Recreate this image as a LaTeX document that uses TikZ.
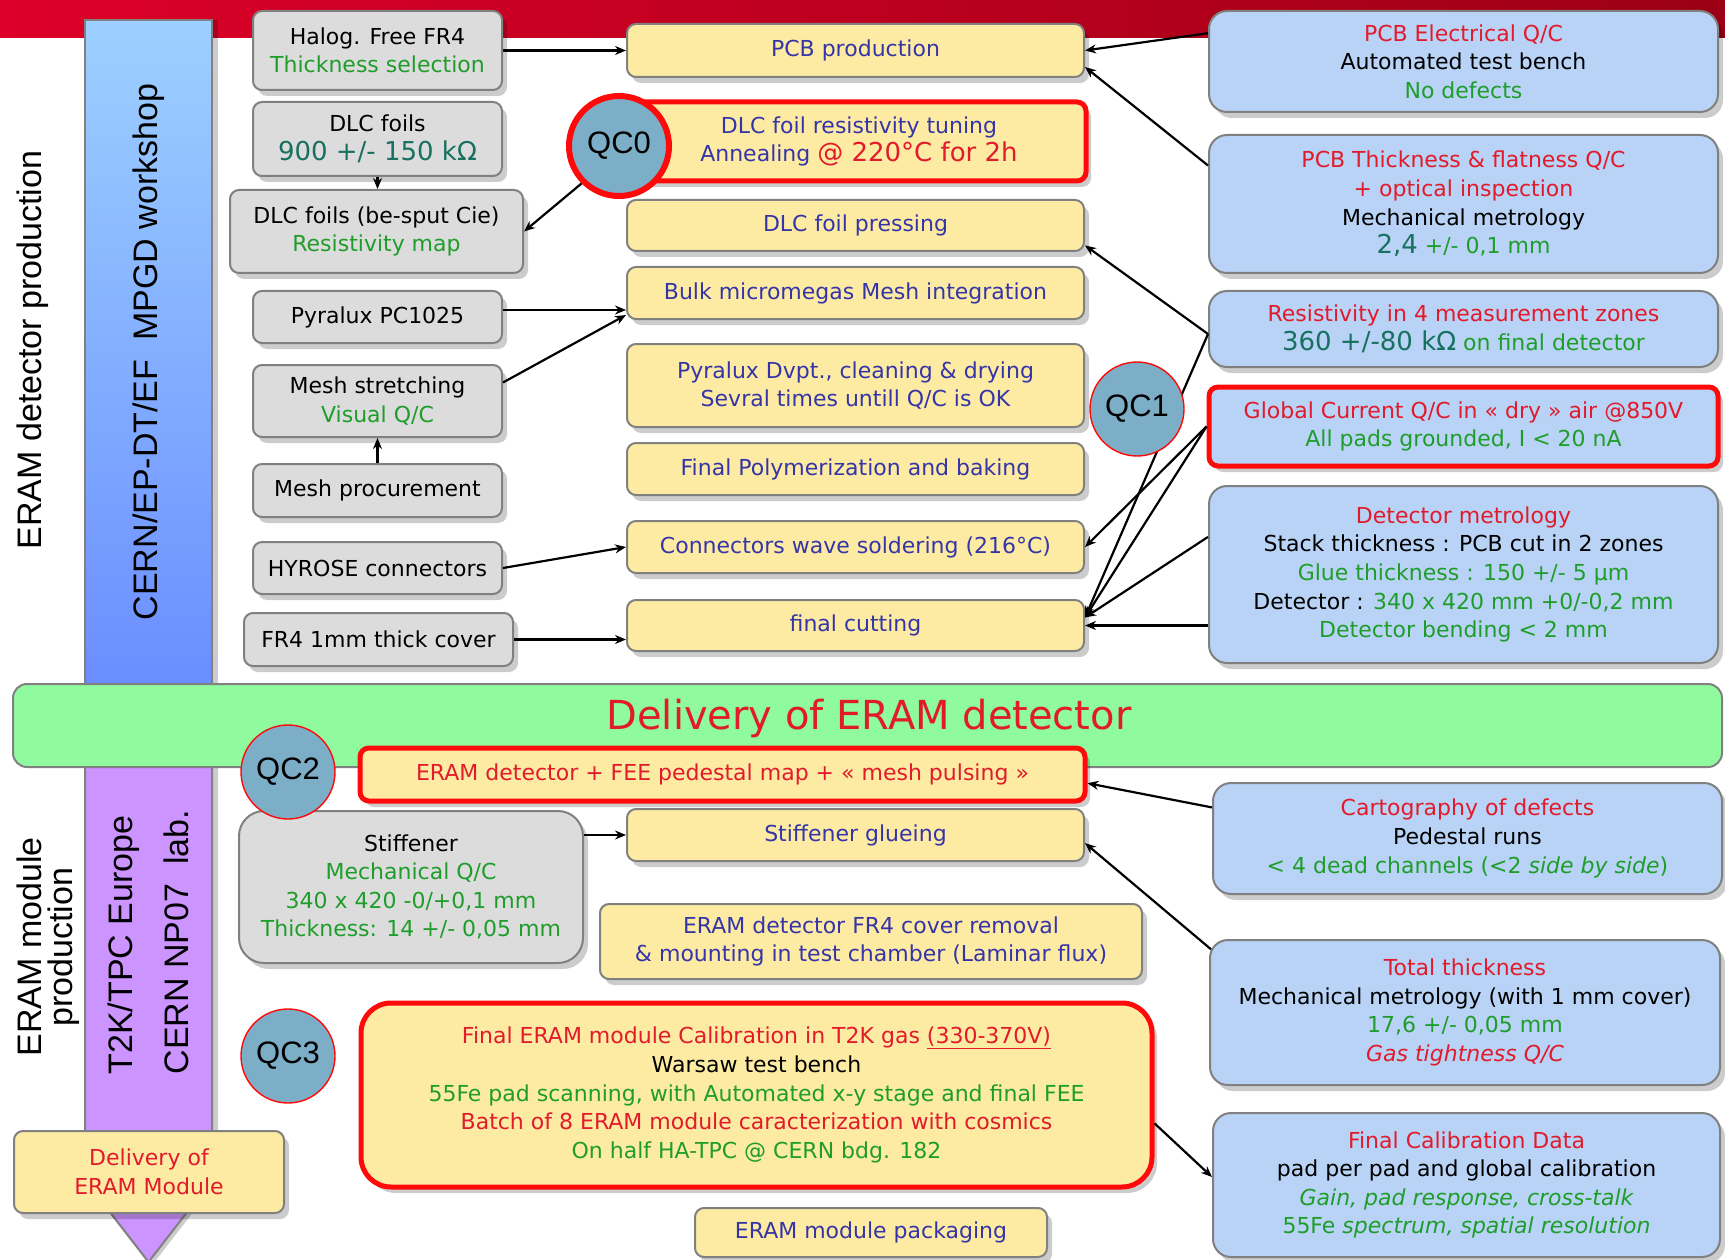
\documentclass[tikz,border=0pt]{standalone}
\usepackage{fontspec}
\setmainfont{DejaVu Sans}
\newfontfamily\arialf{Liberation Sans}
\usetikzlibrary{arrows.meta,shadows,calc}
\definecolor{bordergray}{HTML}{808080}
\definecolor{grayfill}{HTML}{DCDCDC}
\definecolor{yelfill}{HTML}{FDEBA3}
\definecolor{bluefill}{HTML}{B8D3F6}
\definecolor{greenfill}{HTML}{8FFB9E}
\definecolor{qcfill}{HTML}{7DAEC7}
\definecolor{purplefill}{HTML}{CC94FF}
\definecolor{tblue}{HTML}{3535A8}
\definecolor{tgreen}{HTML}{1F9D2B}
\definecolor{tteal}{HTML}{177060}
\definecolor{tred}{HTML}{E11B2B}
\definecolor{redline}{HTML}{FF0A0A}
\definecolor{bannerL}{HTML}{DD0029}
\definecolor{bannerR}{HTML}{9C0014}
\definecolor{barTop}{HTML}{9DD0FF}
\definecolor{barBot}{HTML}{6A8DFF}
\newcommand{\bxfnt}{\fontsize{22}{28.6}\selectfont}
\newcommand{\lgfnt}{\fontsize{26}{28.6}\selectfont}
\newcommand{\sidefnt}{\arialf\fontsize{34}{31}\selectfont}
\tikzset{
  box/.style={draw=bordergray, line width=2, rounded corners=9, align=center, inner sep=0pt,
    font=\bxfnt, text=black,
    drop shadow={shadow xshift=5pt, shadow yshift=-6pt, opacity=0.2, fill=black}},
  gbox/.style={box, fill=grayfill},
  ybox/.style={box, fill=yelfill, text=tblue},
  bbox/.style={box, fill=bluefill, rounded corners=18},
  redbox/.style={draw=redline, line width=5},
  qc/.style={circle, draw=redline, line width=1.4, fill=qcfill, inner sep=0pt, minimum size=94,
    font=\arialf\fontsize{31}{31}\selectfont},
  arr/.style={-{Stealth[length=11pt,width=9pt]}, line width=2.2, black},
  sidelbl/.style={rotate=90, font=\sidefnt, align=center},
}
\begin{document}
\begin{tikzpicture}[x=1pt,y=-1pt]
\useasboundingbox (0,0) rectangle (1725,1260);
% banner
\shade[left color=bannerL, right color=bannerR] (0,0) rectangle (1725,38);
% bars
\draw[draw=bordergray, line width=2, top color=barTop, bottom color=barBot,
  drop shadow={shadow xshift=6pt, shadow yshift=0pt, opacity=0.2, fill=black}] (85,20) rectangle (212,690);
\draw[draw=bordergray, line width=2, fill=purplefill,
  drop shadow={shadow xshift=6pt, shadow yshift=0pt, opacity=0.2, fill=black}]
  (85,760) -- (212,760) -- (212,1180) -- (148.5,1262) -- (85,1180) -- cycle;
% band
\node[draw=bordergray, line width=2, fill=greenfill, rounded corners=14, minimum width=1709, minimum height=83, inner sep=0pt] (band) at (867.5,725.5) {};
\node[font=\fontsize{40}{40}\selectfont, text=tred] (bandtxt) at (869,718) {Delivery of ERAM detector};
% side labels
\node[sidelbl] (lblA) at (33,350) {ERAM detector production};
\node[sidelbl] (lblB) at (148.5,352) {CERN/EP-DT/EF\ \ MPGD workshop};
\node[sidelbl] (lblC) at (48,947) {ERAM module\\production};
\node[sidelbl, anchor=west] (lblD) at (124,1078) {T2K/TPC Europe};
\node[sidelbl, anchor=west] (lblE) at (176,1078) {CERN NP07\ \ lab.};
% gray boxes
\node[gbox, minimum width=249, minimum height=79] (halog) at (377.5,50.5) {Halog. Free FR4\\\textcolor{tgreen}{Thickness selection}};
\node[gbox, minimum width=249, minimum height=74] (dlcA) at (377.5,139) {DLC foils\\{\lgfnt\textcolor{tteal}{900 +/- 150 kΩ}}};
\node[gbox, minimum width=293, minimum height=83] (dlcB) at (376.5,231.5) {DLC foils (be-sput Cie)\\\textcolor{tgreen}{Resistivity map}};
\node[gbox, minimum width=249, minimum height=52] (pyr) at (377.5,317) {Pyralux PC1025};
\node[gbox, minimum width=249, minimum height=72] (mesh) at (377.5,401) {Mesh stretching\\\textcolor{tgreen}{Visual Q/C}};
\node[gbox, minimum width=249, minimum height=53] (proc) at (377.5,490.5) {Mesh procurement};
\node[gbox, minimum width=249, minimum height=52] (hyr) at (377.5,568) {HYROSE connectors};
\node[gbox, minimum width=269, minimum height=53] (fr4) at (378.5,639.5) {FR4 1mm thick cover};
% yellow boxes
\node[ybox, minimum width=457, minimum height=53] (pcb) at (855.5,50.5) {PCB production};
\node[ybox, redbox, minimum width=454, minimum height=79] (dlct) at (859,141.5) {DLC foil resistivity tuning\\Annealing {\lgfnt\textcolor{tred}{@ 220°C for 2h}}};
\node[ybox, minimum width=457, minimum height=51] (press) at (855.5,225.5) {DLC foil pressing};
\node[ybox, minimum width=457, minimum height=52] (bulk) at (855.5,293) {Bulk micromegas Mesh integration};
\node[ybox, minimum width=457, minimum height=83] (pyd) at (855.5,385.5) {Pyralux Dvpt., cleaning \& drying\\Sevral times untill Q/C is OK};
\node[ybox, minimum width=457, minimum height=52] (poly) at (855.5,469) {Final Polymerization and baking};
\node[ybox, minimum width=457, minimum height=52] (wave) at (855.5,547) {Connectors wave soldering (216°C)};
\node[ybox, minimum width=457, minimum height=51] (cut) at (855.5,625.5) {final cutting};
% right blue boxes
\node[bbox, minimum width=509, minimum height=101] (pcbe) at (1463.5,61.5) {\textcolor{tred}{PCB Electrical Q/C}\\Automated test bench\\\textcolor{tgreen}{No defects}};
\node[bbox, minimum width=509, minimum height=138] (pcbt) at (1463.5,204) {\textcolor{tred}{PCB Thickness \& flatness Q/C}\\\textcolor{tred}{+ optical inspection}\\Mechanical metrology\\{\lgfnt\textcolor{tteal}{2,4}} \textcolor{tgreen}{+/- 0,1 mm}};
\node[bbox, minimum width=509, minimum height=76] (res) at (1463.5,329) {\textcolor{tred}{Resistivity in 4 measurement zones}\\{\lgfnt\textcolor{tteal}{360 +/-80 kΩ}} \textcolor{tgreen}{on final detector}};
\node[bbox, redbox, rounded corners=9, minimum width=509, minimum height=79] (gc) at (1463.5,426.5) {\textcolor{tred}{Global Current Q/C in « dry » air @850V}\\\textcolor{tgreen}{All pads grounded, I < 20 nA}};
\node[bbox, minimum width=509, minimum height=177] (detm) at (1463.5,574.5) {\textcolor{tred}{Detector metrology}\\Stack thickness : PCB cut in 2 zones\\\textcolor{tgreen}{Glue thickness : 150 +/- 5 µm}\\Detector : \textcolor{tgreen}{340 x 420 mm +0/-0,2 mm}\\\textcolor{tgreen}{Detector bending < 2 mm}};
% bottom boxes
\node[ybox, redbox, text=tred, minimum width=725, minimum height=53] (fee) at (722.5,774.5) {ERAM detector + FEE pedestal map + « mesh pulsing »};
\node[gbox, rounded corners=25, minimum width=344, minimum height=152] (stiff) at (411,887) {Stiffener\\\textcolor{tgreen}{Mechanical Q/C}\\\textcolor{tgreen}{340 x 420 -0/+0,1 mm}\\\textcolor{tgreen}{Thickness: 14 +/- 0,05 mm}};
\node[ybox, minimum width=457, minimum height=52] (glue) at (855.5,835) {Stiffener glueing};
\node[ybox, minimum width=542, minimum height=75] (cover) at (871,941.5) {ERAM detector FR4 cover removal\\\& mounting in test chamber (Laminar flux)};
\node[ybox, redbox, rounded corners=30, text=black, minimum width=791, minimum height=184] (fincal) at (756.5,1095) {\textcolor{tred}{Final ERAM module Calibration in T2K gas \underline{(330-370V)}}\\Warsaw test bench\\\textcolor{tgreen}{55Fe pad scanning, with Automated x-y stage and final FEE}\\\textcolor{tred}{Batch of 8 ERAM module caracterization with cosmics}\\\textcolor{tgreen}{On half HA-TPC @ CERN bdg. 182}};
\node[ybox, text=tred, minimum width=270, minimum height=82] (delmod) at (149,1172) {Delivery of\\ERAM Module};
\node[ybox, minimum width=352, minimum height=49] (pack) at (871,1232.5) {ERAM module packaging};
\node[bbox, minimum width=509, minimum height=111] (carto) at (1467.5,838.5) {\textcolor{tred}{Cartography of defects}\\Pedestal runs\\\textcolor{tgreen}{< 4 dead channels (<2 \textit{side by side})}};
\node[bbox, minimum width=510, minimum height=145] (tot) at (1465,1012.5) {\textcolor{tred}{Total thickness}\\Mechanical metrology (with 1 mm cover)\\\textcolor{tgreen}{17,6 +/- 0,05 mm}\\\textcolor{tred}{\itshape Gas tightness Q/C}};
\node[bbox, minimum width=507, minimum height=144] (fcd) at (1466.5,1185) {\textcolor{tred}{Final Calibration Data}\\pad per pad and global calibration\\\textcolor{tgreen}{\itshape Gain, pad response, cross-talk}\\\textcolor{tgreen}{55Fe \textit{spectrum, spatial resolution}}};
% connectors left
\draw[arr] (halog.east) -- (pcb.west);
\draw[arr] (dlcA.south) -- (dlcA.south |- dlcB.north);
\coordinate (bulkin) at ($(bulk.south west)+(0,-10)$);
\coordinate (bulkin2) at ($(bulk.south west)+(0,-5)$);
\draw[arr] (pyr.east |- bulkin) -- (bulkin);
\draw[arr] ($(mesh.east)!0.5!(mesh.north east)$) -- (bulkin2);
\draw[arr] (proc.north) -- (mesh.south);
\draw[arr] (hyr.east) -- (wave.west);
\draw[arr] (fr4.east) -- (fr4.east -| cut.west);
% connectors right
\coordinate (resout) at ($(res.west)+(0,5)$);
\coordinate (cutin) at ($(cut.east)+(0,-8)$);
\draw[arr] ($(pcbe.west)!0.55!(pcbe.north west)$) -- (pcb.east);
\draw[arr] ($(pcbt.west)!0.55!(pcbt.north west)$) -- ($(pcb.east)!0.6!(pcb.south east)$);
\draw[arr] (resout) -- ($(press.east)!0.75!(press.south east)$);
\draw[arr] (resout) -- (cutin);
\draw[arr] (gc.west) -- (wave.east);
\draw[arr] (gc.west) -- (cutin);
\draw[arr] ($(detm.west)!0.42!(detm.north west)$) -- (cutin);
\draw[arr] (detm.west |- cut.east) -- (cut.east);
% connectors bottom
\draw[arr] ($(carto.west)!0.55!(carto.north west)$) -- ($(fee.east)!0.3!(fee.south east)$);
\draw[arr] ($(tot.north west)!0.07!(tot.south west)+(2,0)$) -- ($(glue.east)!0.3!(glue.south east)$);
\draw[arr] ($(fincal.east)!0.3!(fincal.south east)$) -- ($(fcd.west)+(0,-8)$);
\draw[arr] (stiff.east |- glue.west) -- (glue.west);
% QC circles
\node[qc, minimum size=100, line width=6] (qc0) at (619,146) {QC0};
\node[qc] (qc1) at (1137,409) {QC1};
\node[qc] (qc2) at (288,772) {QC2};
\node[qc] (qc3) at (288,1056) {QC3};
\draw[arr] (qc0.225) -- (dlcB.east);
\end{tikzpicture}
\end{document}
